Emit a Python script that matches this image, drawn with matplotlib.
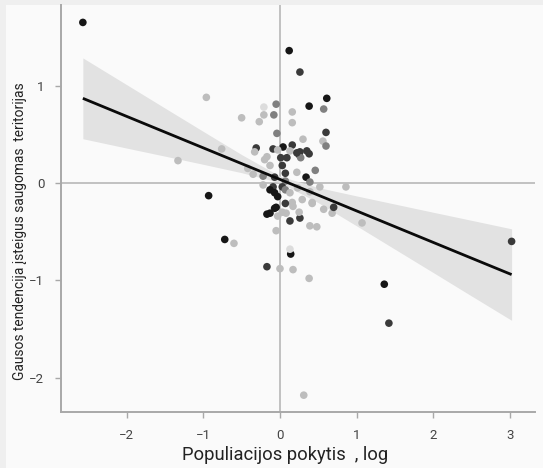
import matplotlib
matplotlib.use("Agg")
import matplotlib.pyplot as plt
from matplotlib.patches import Rectangle
import numpy as np

plt.rcParams['font.family'] = ['Roboto', 'DejaVu Sans']

# ---- data ----
x_vals = [-2.57, -0.96, -1.33, -0.93, -0.72, -0.60, 0.12, 0.26, 0.61, 0.38,
          0.57, -0.17, 0.14, 0.13, 0.00, 0.17, 0.38, 0.31, 1.36, 1.42,
          3.02, 1.07, -0.05, 0.39, 0.48, 0.13, 0.26, -0.17, -0.13, -0.05,
          -0.03, 0.08, 0.17, 0.25, 0.42, 0.57, 0.68, 0.70, -0.50, -0.27,
          -0.31, -0.33, -0.76, -0.42, -0.35, -0.21, -0.05, -0.21, -0.08, 0.16,
          0.16, -0.04, 0.60, 0.56, 0.60, 0.04, 0.16, -0.09, -0.03, 0.13,
          0.26, 0.35, 0.38, 0.30, 0.25, 0.09, -0.17, 0.46, 0.34, 0.01,
          0.03, -0.13, 0.27, 0.07, 0.22, -0.22, -0.07, 0.39, 0.07, -0.22,
          -0.09, -0.13, -0.07, 0.03, 0.07, -0.03, 0.13, 0.23, 0.39, 0.52,
          0.16, 0.29, 0.42, -0.07, 0.03, 0.07, 0.86, 0.22, -0.20]
y_vals = [1.65, 0.88, 0.23, -0.13, -0.58, -0.62, 1.36, 1.14, 0.87, 0.79,
          0.76, -0.86, -0.73, -0.68, -0.88, -0.89, -0.98, -2.18, -1.04, -1.44,
          -0.60, -0.41, -0.49, -0.44, -0.45, -0.39, -0.36, -0.32, -0.31, -0.25,
          -0.34, -0.31, -0.24, -0.30, -0.21, -0.27, -0.31, -0.25, 0.67, 0.63,
          0.36, 0.32, 0.35, 0.15, 0.09, 0.78, 0.81, 0.70, 0.70, 0.73,
          0.62, 0.51, 0.52, 0.43, 0.38, 0.37, 0.39, 0.35, 0.34, 0.33,
          0.32, 0.33, 0.30, 0.45, 0.29, 0.26, 0.27, 0.13, 0.06, 0.26,
          0.18, 0.18, 0.26, 0.10, 0.11, 0.07, 0.06, 0.01, 0.02, -0.02,
          -0.04, -0.07, -0.10, -0.04, -0.07, -0.14, -0.10, -0.05, -0.09, -0.04,
          -0.20, -0.17, -0.20, -0.26, -0.30, -0.21, -0.04, 0.31, 0.24]
shade = ['k', 'l', 'l', 'k', 'k', 'l', 'k', 'd', 'k', 'k',
         'g', 'd', 'k', 'v', 'l', 'l', 'l', 'l', 'k', 'd',
         'd', 'l', 'l', 'l', 'l', 'd', 'd', 'k', 'k', 'k',
         'l', 'l', 'l', 'l', 'l', 'l', 'l', 'd', 'l', 'l',
         'd', 'l', 'l', 'l', 'l', 'v', 'g', 'l', 'g', 'l',
         'l', 'g', 'd', 'l', 'g', 'k', 'd', 'd', 'l', 'l',
         'd', 'd', 'd', 'l', 'd', 'd', 'l', 'g', 'k', 'd',
         'd', 'l', 'g', 'd', 'l', 'g', 'd', 'g', 'g', 'l',
         'd', 'k', 'k', 'd', 'g', 'k', 'l', 'l', 'l', 'l',
         'l', 'l', 'l', 'k', 'l', 'd', 'l', 'd', 'l']

# regression line and confidence band
fit_x = [-2.57, -2.0, -1.5, -1.0, -0.5, 0.0, 0.5, 1.0, 1.5, 2.0, 2.5, 3.02]
fit_y = [0.870, 0.685, 0.523, 0.361, 0.199, 0.037, -0.125, -0.287, -0.449, -0.611, -0.773, -0.941]
ci_hw = [0.415, 0.326, 0.247, 0.169, 0.093, 0.033, 0.078, 0.154, 0.232, 0.310, 0.389, 0.470]

x_ticks = [-2, -1, 0, 1, 2, 3]
y_ticks = [-2, -1, 0, 1]

x_label = 'Populiacijos pokytis  , log'
y_label = 'Gausos tendencija įsteigus saugomas  teritorijas'

shade_colors = {'k': '#161616', 'd': '#3a3a3a', 'g': '#808080', 'l': '#bdbdbd', 'v': '#dcdcdc'}

# ---- figure ----
W, H = 543, 468
fig = plt.figure(figsize=(W / 100, H / 100), dpi=100, facecolor='#efefef')
bg = Rectangle((6 / W, 0), 1 - 6 / W, 1 - 5 / H, transform=fig.transFigure,
               facecolor='#fafafa', edgecolor='none', zorder=-10)
fig.add_artist(bg)

ax = fig.add_axes([61 / W, (H - 412) / H, (535 - 61) / W, (412 - 5) / H])
ax.set_facecolor('none')

ax.axhline(0, color='#bcbcbc', lw=1.3, zorder=1)
ax.axvline(0, color='#bcbcbc', lw=1.3, zorder=1)

fx = np.array(fit_x)
fy = np.array(fit_y)
hw = np.array(ci_hw)
ax.fill_between(fx, fy - hw, fy + hw, color='#e2e2e2', lw=0, zorder=2)

cols = [shade_colors[s] for s in shade]
ax.scatter(x_vals, y_vals, s=30, c=cols, edgecolors='none', zorder=3)

ax.plot(fx, fy, color='#0a0a0a', lw=2.0, zorder=4, solid_capstyle='butt')

ax.set_xlim(-2.855, 3.325)
ax.set_ylim(-2.353, 1.829)
ax.set_xticks(x_ticks)
ax.set_yticks(y_ticks)
ax.set_xticklabels([f"{t}".replace('-', '\u2212') for t in x_ticks])
ax.set_yticklabels([f"{t}".replace('-', '\u2212') for t in y_ticks])

for side in ['top', 'right']:
    ax.spines[side].set_visible(False)
for side in ['left', 'bottom']:
    ax.spines[side].set_color('#a8a8a8')
    ax.spines[side].set_linewidth(1.4)

ax.tick_params(axis='both', colors='#a8a8a8', labelcolor='#444444', labelsize=9.5,
               length=4, width=1.0, pad=8)

fig.text(285 / W, 1 - 455 / H, x_label, fontsize=13.2, color='#222222',
         ha='center', va='center')
fig.text(20 / W, 1 - 231 / H, y_label, fontsize=9.9, color='#222222',
         ha='center', va='center', rotation=90)

fig.savefig('out.png', dpi=100, facecolor=fig.get_facecolor())
